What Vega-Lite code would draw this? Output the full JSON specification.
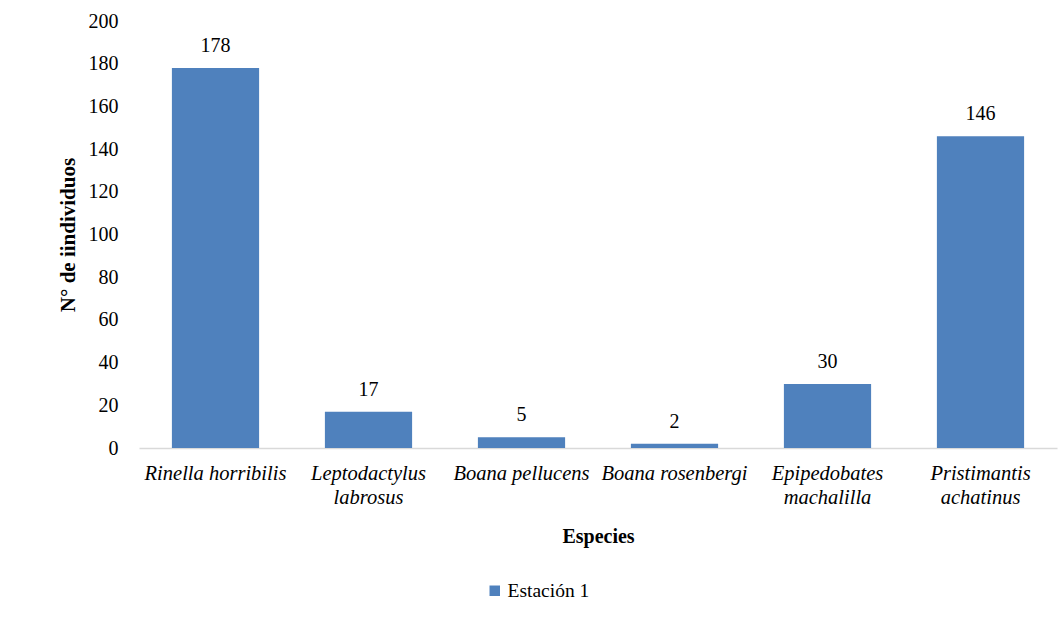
{
  "$schema": "https://vega.github.io/schema/vega-lite/v6.json",
  "autosize": {"type": "none"},
  "padding": {"left": 139, "top": 21, "right": 2, "bottom": 176},
  "width": 918,
  "height": 427,
  "background": "white",
  "config": {
    "view": {"stroke": null},
    "font": "Liberation Serif"
  },
  "data": {
    "values": [
      {"especie": "Rinella horribilis", "n": 178, "serie": "Estación 1"},
      {"especie": "Leptodactylus labrosus", "n": 17, "serie": "Estación 1"},
      {"especie": "Boana pellucens", "n": 5, "serie": "Estación 1"},
      {"especie": "Boana rosenbergi", "n": 2, "serie": "Estación 1"},
      {"especie": "Epipedobates machalilla", "n": 30, "serie": "Estación 1"},
      {"especie": "Pristimantis achatinus", "n": 146, "serie": "Estación 1"}
    ]
  },
  "encoding": {
    "x": {
      "field": "especie", "type": "nominal", "sort": null,
      "scale": {"paddingInner": 0.43, "paddingOuter": 0.215},
      "axis": {
        "title": "Especies",
        "titleFont": "Liberation Serif", "titleFontSize": 20, "titleFontWeight": "bold", "titleColor": "black",
        "titlePadding": 19,
        "labelFont": "Liberation Serif", "labelFontSize": 20.5, "labelFontStyle": "italic", "labelColor": "black",
        "labelAngle": 0, "labelPadding": 15, "labelLineHeight": 24,
        "labelExpr": "indexof(['Leptodactylus labrosus','Epipedobates machalilla','Pristimantis achatinus'], datum.label) >= 0 ? split(datum.label, ' ') : datum.label",
        "ticks": false, "domainColor": "#D9D9D9", "domainWidth": 1.5, "grid": false
      }
    },
    "y": {
      "field": "n", "type": "quantitative",
      "scale": {"domain": [0, 200]},
      "axis": {
        "title": "N° de iindividuos",
        "titleFont": "Liberation Serif", "titleFontSize": 21, "titleFontWeight": "bold", "titleColor": "black",
        "titlePadding": 10,
        "labelFont": "Liberation Serif", "labelFontSize": 20, "labelColor": "black", "labelPadding": 21,
        "values": [0, 20, 40, 60, 80, 100, 120, 140, 160, 180, 200],
        "ticks": false, "domain": false, "grid": false
      }
    }
  },
  "layer": [
    {
      "mark": {"type": "bar"},
      "encoding": {
        "color": {
          "field": "serie", "type": "nominal",
          "scale": {"range": ["#4F81BD"]},
          "legend": {
            "title": null, "orient": "none", "direction": "horizontal",
            "legendX": 346, "legendY": 560,
            "symbolType": "square", "symbolSize": 110, "symbolStrokeWidth": 0,
            "labelFont": "Liberation Serif", "labelFontSize": 19.5, "labelColor": "black",
            "labelOffset": 3
          }
        }
      }
    },
    {
      "mark": {"type": "text", "dy": -12, "baseline": "bottom", "font": "Liberation Serif", "fontSize": 20, "color": "black"},
      "encoding": {"text": {"field": "n", "type": "quantitative"}}
    }
  ]
}
